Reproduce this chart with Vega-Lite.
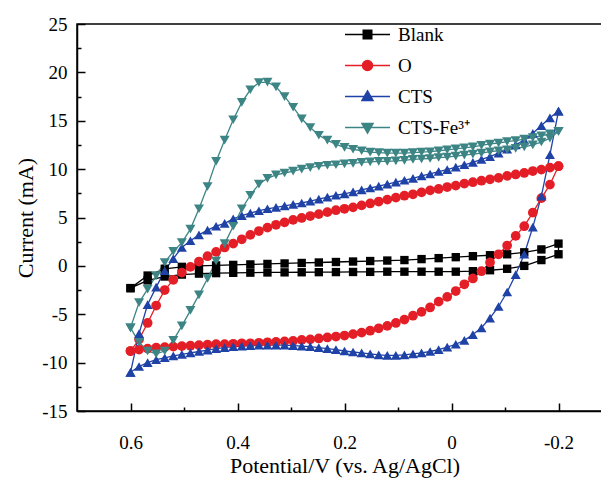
{
"$schema": "https://vega.github.io/schema/vega-lite/v6.json",
"width": 535, "height": 387,
"autosize": {"type": "none"},
"padding": {"left": 77, "top": 24, "right": 0, "bottom": 68},
"background": "white",
"config": {
  "view": {"stroke": "#000", "strokeWidth": 1.5},
  "font": "Liberation Serif",
  "axis": {"grid": false, "domainColor": "#000", "domainWidth": 1.5, "tickColor": "#000", "tickWidth": 1.5, "labelColor": "#000", "titleColor": "#000", "labelFont": "Liberation Serif", "titleFont": "Liberation Serif", "labelFontSize": 19, "titleFontSize": 22, "titleFontWeight": "normal"},
  "legend": {"orient": "none", "legendX": 281, "legendY": 1, "padding": 0, "labelFont": "Liberation Serif", "labelFontSize": 19, "labelColor": "#000", "symbolSize": 100, "rowPadding": 11, "labelOffset": 21, "symbolStrokeWidth": 1.5, "symbolOpacity": 1}
},
"data": {"values": [
{"s":"Blank","k":1,"v":0.6,"c":-2.3},{"s":"Blank","k":2,"v":0.568,"c":-1.0},{"s":"Blank","k":3,"v":0.536,"c":-0.3},{"s":"Blank","k":4,"v":0.504,"c":-0.1},{"s":"Blank","k":5,"v":0.472,"c":0.0},{"s":"Blank","k":6,"v":0.44,"c":0.05},{"s":"Blank","k":7,"v":0.408,"c":0.1},{"s":"Blank","k":8,"v":0.376,"c":0.15},{"s":"Blank","k":9,"v":0.344,"c":0.2},{"s":"Blank","k":10,"v":0.312,"c":0.25},{"s":"Blank","k":11,"v":0.28,"c":0.3},{"s":"Blank","k":12,"v":0.248,"c":0.35},{"s":"Blank","k":13,"v":0.216,"c":0.4},{"s":"Blank","k":14,"v":0.184,"c":0.45},{"s":"Blank","k":15,"v":0.152,"c":0.5},{"s":"Blank","k":16,"v":0.12,"c":0.55},{"s":"Blank","k":17,"v":0.088,"c":0.6},{"s":"Blank","k":18,"v":0.056,"c":0.7},{"s":"Blank","k":19,"v":0.024,"c":0.8},{"s":"Blank","k":20,"v":-0.008,"c":0.9},{"s":"Blank","k":21,"v":-0.04,"c":1.0},{"s":"Blank","k":22,"v":-0.072,"c":1.1},{"s":"Blank","k":23,"v":-0.104,"c":1.2},{"s":"Blank","k":24,"v":-0.136,"c":1.4},{"s":"Blank","k":25,"v":-0.168,"c":1.7},{"s":"Blank","k":26,"v":-0.2,"c":2.3},
{"s":"Blank","k":27,"v":-0.2,"c":1.2},{"s":"Blank","k":28,"v":-0.168,"c":0.6},{"s":"Blank","k":29,"v":-0.136,"c":0.0},{"s":"Blank","k":30,"v":-0.104,"c":-0.3},{"s":"Blank","k":31,"v":-0.072,"c":-0.45},{"s":"Blank","k":32,"v":-0.04,"c":-0.55},{"s":"Blank","k":33,"v":-0.008,"c":-0.6},{"s":"Blank","k":34,"v":0.024,"c":-0.6},{"s":"Blank","k":35,"v":0.056,"c":-0.6},{"s":"Blank","k":36,"v":0.088,"c":-0.6},{"s":"Blank","k":37,"v":0.12,"c":-0.6},{"s":"Blank","k":38,"v":0.152,"c":-0.62},{"s":"Blank","k":39,"v":0.184,"c":-0.63},{"s":"Blank","k":40,"v":0.216,"c":-0.64},{"s":"Blank","k":41,"v":0.248,"c":-0.65},{"s":"Blank","k":42,"v":0.28,"c":-0.66},{"s":"Blank","k":43,"v":0.312,"c":-0.67},{"s":"Blank","k":44,"v":0.344,"c":-0.68},{"s":"Blank","k":45,"v":0.376,"c":-0.7},{"s":"Blank","k":46,"v":0.408,"c":-0.72},{"s":"Blank","k":47,"v":0.44,"c":-0.75},{"s":"Blank","k":48,"v":0.472,"c":-0.8},{"s":"Blank","k":49,"v":0.504,"c":-0.9},{"s":"Blank","k":50,"v":0.536,"c":-1.1},{"s":"Blank","k":51,"v":0.568,"c":-1.5},{"s":"Blank","k":52,"v":0.6,"c":-2.3},

{"s":"O","k":1,"v":0.6,"c":-8.8},{"s":"O","k":2,"v":0.584,"c":-7.6},{"s":"O","k":3,"v":0.568,"c":-5.9},{"s":"O","k":4,"v":0.552,"c":-4.1},{"s":"O","k":5,"v":0.536,"c":-2.5},{"s":"O","k":6,"v":0.52,"c":-1.45},{"s":"O","k":7,"v":0.504,"c":-0.7},{"s":"O","k":8,"v":0.488,"c":-0.1},{"s":"O","k":9,"v":0.472,"c":0.45},{"s":"O","k":10,"v":0.456,"c":1.0},{"s":"O","k":11,"v":0.44,"c":1.45},{"s":"O","k":12,"v":0.424,"c":1.9},{"s":"O","k":13,"v":0.408,"c":2.3},{"s":"O","k":14,"v":0.392,"c":2.75},{"s":"O","k":15,"v":0.376,"c":3.2},{"s":"O","k":16,"v":0.36,"c":3.6},{"s":"O","k":17,"v":0.344,"c":3.95},{"s":"O","k":18,"v":0.328,"c":4.25},{"s":"O","k":19,"v":0.312,"c":4.5},{"s":"O","k":20,"v":0.296,"c":4.75},{"s":"O","k":21,"v":0.28,"c":4.95},{"s":"O","k":22,"v":0.264,"c":5.15},{"s":"O","k":23,"v":0.248,"c":5.35},{"s":"O","k":24,"v":0.232,"c":5.55},{"s":"O","k":25,"v":0.216,"c":5.75},{"s":"O","k":26,"v":0.2,"c":5.9},{"s":"O","k":27,"v":0.184,"c":6.05},{"s":"O","k":28,"v":0.168,"c":6.25},{"s":"O","k":29,"v":0.152,"c":6.45},{"s":"O","k":30,"v":0.136,"c":6.65},{"s":"O","k":31,"v":0.12,"c":6.85},{"s":"O","k":32,"v":0.104,"c":7.05},{"s":"O","k":33,"v":0.088,"c":7.25},{"s":"O","k":34,"v":0.072,"c":7.4},{"s":"O","k":35,"v":0.056,"c":7.6},{"s":"O","k":36,"v":0.04,"c":7.8},{"s":"O","k":37,"v":0.024,"c":7.95},{"s":"O","k":38,"v":0.008,"c":8.15},{"s":"O","k":39,"v":-0.008,"c":8.3},{"s":"O","k":40,"v":-0.024,"c":8.5},{"s":"O","k":41,"v":-0.04,"c":8.65},{"s":"O","k":42,"v":-0.056,"c":8.8},{"s":"O","k":43,"v":-0.072,"c":8.95},{"s":"O","k":44,"v":-0.088,"c":9.1},{"s":"O","k":45,"v":-0.104,"c":9.3},{"s":"O","k":46,"v":-0.12,"c":9.45},{"s":"O","k":47,"v":-0.136,"c":9.6},{"s":"O","k":48,"v":-0.152,"c":9.8},{"s":"O","k":49,"v":-0.168,"c":9.95},{"s":"O","k":50,"v":-0.184,"c":10.15},{"s":"O","k":51,"v":-0.2,"c":10.3},
{"s":"O","k":52,"v":-0.2,"c":10.3},{"s":"O","k":53,"v":-0.184,"c":8.4},{"s":"O","k":54,"v":-0.168,"c":7.0},{"s":"O","k":55,"v":-0.152,"c":5.5},{"s":"O","k":56,"v":-0.136,"c":4.1},{"s":"O","k":57,"v":-0.12,"c":3.1},{"s":"O","k":58,"v":-0.104,"c":2.1},{"s":"O","k":59,"v":-0.088,"c":1.2},{"s":"O","k":60,"v":-0.072,"c":0.35},{"s":"O","k":61,"v":-0.056,"c":-0.55},{"s":"O","k":62,"v":-0.04,"c":-1.3},{"s":"O","k":63,"v":-0.024,"c":-1.9},{"s":"O","k":64,"v":-0.008,"c":-2.6},{"s":"O","k":65,"v":0.008,"c":-3.2},{"s":"O","k":66,"v":0.024,"c":-3.7},{"s":"O","k":67,"v":0.04,"c":-4.3},{"s":"O","k":68,"v":0.056,"c":-4.75},{"s":"O","k":69,"v":0.072,"c":-5.15},{"s":"O","k":70,"v":0.088,"c":-5.55},{"s":"O","k":71,"v":0.104,"c":-5.9},{"s":"O","k":72,"v":0.12,"c":-6.2},{"s":"O","k":73,"v":0.136,"c":-6.45},{"s":"O","k":74,"v":0.152,"c":-6.7},{"s":"O","k":75,"v":0.168,"c":-6.9},{"s":"O","k":76,"v":0.184,"c":-7.05},{"s":"O","k":77,"v":0.2,"c":-7.2},{"s":"O","k":78,"v":0.216,"c":-7.3},{"s":"O","k":79,"v":0.232,"c":-7.4},{"s":"O","k":80,"v":0.248,"c":-7.5},{"s":"O","k":81,"v":0.264,"c":-7.6},{"s":"O","k":82,"v":0.28,"c":-7.65},{"s":"O","k":83,"v":0.296,"c":-7.75},{"s":"O","k":84,"v":0.312,"c":-7.8},{"s":"O","k":85,"v":0.328,"c":-7.85},{"s":"O","k":86,"v":0.344,"c":-7.9},{"s":"O","k":87,"v":0.36,"c":-7.95},{"s":"O","k":88,"v":0.376,"c":-8.0},{"s":"O","k":89,"v":0.392,"c":-8.0},{"s":"O","k":90,"v":0.408,"c":-8.05},{"s":"O","k":91,"v":0.424,"c":-8.1},{"s":"O","k":92,"v":0.44,"c":-8.1},{"s":"O","k":93,"v":0.456,"c":-8.15},{"s":"O","k":94,"v":0.472,"c":-8.2},{"s":"O","k":95,"v":0.488,"c":-8.25},{"s":"O","k":96,"v":0.504,"c":-8.3},{"s":"O","k":97,"v":0.52,"c":-8.35},{"s":"O","k":98,"v":0.536,"c":-8.4},{"s":"O","k":99,"v":0.552,"c":-8.45},{"s":"O","k":100,"v":0.568,"c":-8.55},{"s":"O","k":101,"v":0.584,"c":-8.65},{"s":"O","k":102,"v":0.6,"c":-8.8},

{"s":"CTS","k":1,"v":0.6,"c":-11.0},{"s":"CTS","k":2,"v":0.584,"c":-7.0},{"s":"CTS","k":3,"v":0.568,"c":-4.0},{"s":"CTS","k":4,"v":0.552,"c":-2.2},{"s":"CTS","k":5,"v":0.536,"c":-0.5},{"s":"CTS","k":6,"v":0.52,"c":0.75},{"s":"CTS","k":7,"v":0.504,"c":1.9},{"s":"CTS","k":8,"v":0.488,"c":2.6},{"s":"CTS","k":9,"v":0.472,"c":3.2},{"s":"CTS","k":10,"v":0.456,"c":3.7},{"s":"CTS","k":11,"v":0.44,"c":4.1},{"s":"CTS","k":12,"v":0.424,"c":4.4},{"s":"CTS","k":13,"v":0.408,"c":4.85},{"s":"CTS","k":14,"v":0.392,"c":5.2},{"s":"CTS","k":15,"v":0.376,"c":5.45},{"s":"CTS","k":16,"v":0.36,"c":5.7},{"s":"CTS","k":17,"v":0.344,"c":5.9},{"s":"CTS","k":18,"v":0.328,"c":6.05},{"s":"CTS","k":19,"v":0.312,"c":6.2},{"s":"CTS","k":20,"v":0.296,"c":6.35},{"s":"CTS","k":21,"v":0.28,"c":6.5},{"s":"CTS","k":22,"v":0.264,"c":6.7},{"s":"CTS","k":23,"v":0.248,"c":6.9},{"s":"CTS","k":24,"v":0.232,"c":7.1},{"s":"CTS","k":25,"v":0.216,"c":7.3},{"s":"CTS","k":26,"v":0.2,"c":7.45},{"s":"CTS","k":27,"v":0.184,"c":7.65},{"s":"CTS","k":28,"v":0.168,"c":7.85},{"s":"CTS","k":29,"v":0.152,"c":8.05},{"s":"CTS","k":30,"v":0.136,"c":8.25},{"s":"CTS","k":31,"v":0.12,"c":8.45},{"s":"CTS","k":32,"v":0.104,"c":8.65},{"s":"CTS","k":33,"v":0.088,"c":8.85},{"s":"CTS","k":34,"v":0.072,"c":9.05},{"s":"CTS","k":35,"v":0.056,"c":9.3},{"s":"CTS","k":36,"v":0.04,"c":9.5},{"s":"CTS","k":37,"v":0.024,"c":9.75},{"s":"CTS","k":38,"v":0.008,"c":9.95},{"s":"CTS","k":39,"v":-0.008,"c":10.2},{"s":"CTS","k":40,"v":-0.024,"c":10.45},{"s":"CTS","k":41,"v":-0.04,"c":10.7},{"s":"CTS","k":42,"v":-0.056,"c":11.0},{"s":"CTS","k":43,"v":-0.072,"c":11.3},{"s":"CTS","k":44,"v":-0.088,"c":11.65},{"s":"CTS","k":45,"v":-0.104,"c":12.05},{"s":"CTS","k":46,"v":-0.12,"c":12.5},{"s":"CTS","k":47,"v":-0.136,"c":13.0},{"s":"CTS","k":48,"v":-0.152,"c":13.7},{"s":"CTS","k":49,"v":-0.168,"c":14.5},{"s":"CTS","k":50,"v":-0.184,"c":15.3},{"s":"CTS","k":51,"v":-0.2,"c":16.0},
{"s":"CTS","k":52,"v":-0.2,"c":16.0},{"s":"CTS","k":53,"v":-0.184,"c":11.5},{"s":"CTS","k":54,"v":-0.168,"c":7.2},{"s":"CTS","k":55,"v":-0.152,"c":4.0},{"s":"CTS","k":56,"v":-0.136,"c":1.2},{"s":"CTS","k":57,"v":-0.12,"c":-0.9},{"s":"CTS","k":58,"v":-0.104,"c":-2.7},{"s":"CTS","k":59,"v":-0.088,"c":-4.2},{"s":"CTS","k":60,"v":-0.072,"c":-5.4},{"s":"CTS","k":61,"v":-0.056,"c":-6.4},{"s":"CTS","k":62,"v":-0.04,"c":-7.1},{"s":"CTS","k":63,"v":-0.024,"c":-7.7},{"s":"CTS","k":64,"v":-0.008,"c":-8.1},{"s":"CTS","k":65,"v":0.008,"c":-8.4},{"s":"CTS","k":66,"v":0.024,"c":-8.65},{"s":"CTS","k":67,"v":0.04,"c":-8.85},{"s":"CTS","k":68,"v":0.056,"c":-9.0},{"s":"CTS","k":69,"v":0.072,"c":-9.1},{"s":"CTS","k":70,"v":0.088,"c":-9.2},{"s":"CTS","k":71,"v":0.104,"c":-9.25},{"s":"CTS","k":72,"v":0.12,"c":-9.25},{"s":"CTS","k":73,"v":0.136,"c":-9.2},{"s":"CTS","k":74,"v":0.152,"c":-9.1},{"s":"CTS","k":75,"v":0.168,"c":-9.0},{"s":"CTS","k":76,"v":0.184,"c":-8.9},{"s":"CTS","k":77,"v":0.2,"c":-8.8},{"s":"CTS","k":78,"v":0.216,"c":-8.65},{"s":"CTS","k":79,"v":0.232,"c":-8.55},{"s":"CTS","k":80,"v":0.248,"c":-8.45},{"s":"CTS","k":81,"v":0.264,"c":-8.35},{"s":"CTS","k":82,"v":0.28,"c":-8.3},{"s":"CTS","k":83,"v":0.296,"c":-8.25},{"s":"CTS","k":84,"v":0.312,"c":-8.2},{"s":"CTS","k":85,"v":0.328,"c":-8.2},{"s":"CTS","k":86,"v":0.344,"c":-8.2},{"s":"CTS","k":87,"v":0.36,"c":-8.2},{"s":"CTS","k":88,"v":0.376,"c":-8.25},{"s":"CTS","k":89,"v":0.392,"c":-8.3},{"s":"CTS","k":90,"v":0.408,"c":-8.35},{"s":"CTS","k":91,"v":0.424,"c":-8.45},{"s":"CTS","k":92,"v":0.44,"c":-8.55},{"s":"CTS","k":93,"v":0.456,"c":-8.7},{"s":"CTS","k":94,"v":0.472,"c":-8.85},{"s":"CTS","k":95,"v":0.488,"c":-9.0},{"s":"CTS","k":96,"v":0.504,"c":-9.15},{"s":"CTS","k":97,"v":0.52,"c":-9.3},{"s":"CTS","k":98,"v":0.536,"c":-9.5},{"s":"CTS","k":99,"v":0.552,"c":-9.7},{"s":"CTS","k":100,"v":0.568,"c":-10.0},{"s":"CTS","k":101,"v":0.584,"c":-10.4},{"s":"CTS","k":102,"v":0.6,"c":-11.0},

{"s":"CTS-Fe³⁺","k":1,"v":0.6,"c":-6.4},{"s":"CTS-Fe³⁺","k":2,"v":0.584,"c":-3.8},{"s":"CTS-Fe³⁺","k":3,"v":0.568,"c":-2.4},{"s":"CTS-Fe³⁺","k":4,"v":0.552,"c":-1.0},{"s":"CTS-Fe³⁺","k":5,"v":0.536,"c":0.35},{"s":"CTS-Fe³⁺","k":6,"v":0.52,"c":1.5},{"s":"CTS-Fe³⁺","k":7,"v":0.504,"c":2.4},{"s":"CTS-Fe³⁺","k":8,"v":0.488,"c":3.8},{"s":"CTS-Fe³⁺","k":9,"v":0.472,"c":5.9},{"s":"CTS-Fe³⁺","k":10,"v":0.456,"c":8.2},{"s":"CTS-Fe³⁺","k":11,"v":0.44,"c":10.8},{"s":"CTS-Fe³⁺","k":12,"v":0.424,"c":13.0},{"s":"CTS-Fe³⁺","k":13,"v":0.408,"c":15.1},{"s":"CTS-Fe³⁺","k":14,"v":0.392,"c":16.9},{"s":"CTS-Fe³⁺","k":15,"v":0.376,"c":18.2},{"s":"CTS-Fe³⁺","k":16,"v":0.36,"c":18.95},{"s":"CTS-Fe³⁺","k":17,"v":0.344,"c":19.0},{"s":"CTS-Fe³⁺","k":18,"v":0.328,"c":18.5},{"s":"CTS-Fe³⁺","k":19,"v":0.312,"c":17.5},{"s":"CTS-Fe³⁺","k":20,"v":0.296,"c":16.4},{"s":"CTS-Fe³⁺","k":21,"v":0.28,"c":15.2},{"s":"CTS-Fe³⁺","k":22,"v":0.264,"c":14.3},{"s":"CTS-Fe³⁺","k":23,"v":0.248,"c":13.5},{"s":"CTS-Fe³⁺","k":24,"v":0.232,"c":13.0},{"s":"CTS-Fe³⁺","k":25,"v":0.216,"c":12.55},{"s":"CTS-Fe³⁺","k":26,"v":0.2,"c":12.25},{"s":"CTS-Fe³⁺","k":27,"v":0.184,"c":12.05},{"s":"CTS-Fe³⁺","k":28,"v":0.168,"c":11.9},{"s":"CTS-Fe³⁺","k":29,"v":0.152,"c":11.75},{"s":"CTS-Fe³⁺","k":30,"v":0.136,"c":11.7},{"s":"CTS-Fe³⁺","k":31,"v":0.12,"c":11.65},{"s":"CTS-Fe³⁺","k":32,"v":0.104,"c":11.65},{"s":"CTS-Fe³⁺","k":33,"v":0.088,"c":11.65},{"s":"CTS-Fe³⁺","k":34,"v":0.072,"c":11.7},{"s":"CTS-Fe³⁺","k":35,"v":0.056,"c":11.75},{"s":"CTS-Fe³⁺","k":36,"v":0.04,"c":11.8},{"s":"CTS-Fe³⁺","k":37,"v":0.024,"c":11.9},{"s":"CTS-Fe³⁺","k":38,"v":0.008,"c":12.0},{"s":"CTS-Fe³⁺","k":39,"v":-0.008,"c":12.1},{"s":"CTS-Fe³⁺","k":40,"v":-0.024,"c":12.2},{"s":"CTS-Fe³⁺","k":41,"v":-0.04,"c":12.3},{"s":"CTS-Fe³⁺","k":42,"v":-0.056,"c":12.45},{"s":"CTS-Fe³⁺","k":43,"v":-0.072,"c":12.6},{"s":"CTS-Fe³⁺","k":44,"v":-0.088,"c":12.7},{"s":"CTS-Fe³⁺","k":45,"v":-0.104,"c":12.85},{"s":"CTS-Fe³⁺","k":46,"v":-0.12,"c":12.95},{"s":"CTS-Fe³⁺","k":47,"v":-0.136,"c":13.1},{"s":"CTS-Fe³⁺","k":48,"v":-0.152,"c":13.25},{"s":"CTS-Fe³⁺","k":49,"v":-0.168,"c":13.45},{"s":"CTS-Fe³⁺","k":50,"v":-0.184,"c":13.65},{"s":"CTS-Fe³⁺","k":51,"v":-0.2,"c":13.9},
{"s":"CTS-Fe³⁺","k":52,"v":-0.2,"c":13.9},{"s":"CTS-Fe³⁺","k":53,"v":-0.184,"c":13.2},{"s":"CTS-Fe³⁺","k":54,"v":-0.168,"c":12.8},{"s":"CTS-Fe³⁺","k":55,"v":-0.152,"c":12.5},{"s":"CTS-Fe³⁺","k":56,"v":-0.136,"c":12.3},{"s":"CTS-Fe³⁺","k":57,"v":-0.12,"c":12.15},{"s":"CTS-Fe³⁺","k":58,"v":-0.104,"c":12.0},{"s":"CTS-Fe³⁺","k":59,"v":-0.088,"c":11.9},{"s":"CTS-Fe³⁺","k":60,"v":-0.072,"c":11.8},{"s":"CTS-Fe³⁺","k":61,"v":-0.056,"c":11.65},{"s":"CTS-Fe³⁺","k":62,"v":-0.04,"c":11.55},{"s":"CTS-Fe³⁺","k":63,"v":-0.024,"c":11.45},{"s":"CTS-Fe³⁺","k":64,"v":-0.008,"c":11.35},{"s":"CTS-Fe³⁺","k":65,"v":0.008,"c":11.25},{"s":"CTS-Fe³⁺","k":66,"v":0.024,"c":11.2},{"s":"CTS-Fe³⁺","k":67,"v":0.04,"c":11.1},{"s":"CTS-Fe³⁺","k":68,"v":0.056,"c":11.05},{"s":"CTS-Fe³⁺","k":69,"v":0.072,"c":11.0},{"s":"CTS-Fe³⁺","k":70,"v":0.088,"c":10.9},{"s":"CTS-Fe³⁺","k":71,"v":0.104,"c":10.85},{"s":"CTS-Fe³⁺","k":72,"v":0.12,"c":10.8},{"s":"CTS-Fe³⁺","k":73,"v":0.136,"c":10.8},{"s":"CTS-Fe³⁺","k":74,"v":0.152,"c":10.75},{"s":"CTS-Fe³⁺","k":75,"v":0.168,"c":10.7},{"s":"CTS-Fe³⁺","k":76,"v":0.184,"c":10.6},{"s":"CTS-Fe³⁺","k":77,"v":0.2,"c":10.55},{"s":"CTS-Fe³⁺","k":78,"v":0.216,"c":10.45},{"s":"CTS-Fe³⁺","k":79,"v":0.232,"c":10.4},{"s":"CTS-Fe³⁺","k":80,"v":0.248,"c":10.3},{"s":"CTS-Fe³⁺","k":81,"v":0.264,"c":10.15},{"s":"CTS-Fe³⁺","k":82,"v":0.28,"c":10.0},{"s":"CTS-Fe³⁺","k":83,"v":0.296,"c":9.8},{"s":"CTS-Fe³⁺","k":84,"v":0.312,"c":9.6},{"s":"CTS-Fe³⁺","k":85,"v":0.328,"c":9.4},{"s":"CTS-Fe³⁺","k":86,"v":0.344,"c":9.05},{"s":"CTS-Fe³⁺","k":87,"v":0.36,"c":8.45},{"s":"CTS-Fe³⁺","k":88,"v":0.376,"c":7.3},{"s":"CTS-Fe³⁺","k":89,"v":0.392,"c":5.9},{"s":"CTS-Fe³⁺","k":90,"v":0.408,"c":4.1},{"s":"CTS-Fe³⁺","k":91,"v":0.424,"c":2.3},{"s":"CTS-Fe³⁺","k":92,"v":0.44,"c":0.5},{"s":"CTS-Fe³⁺","k":93,"v":0.456,"c":-1.3},{"s":"CTS-Fe³⁺","k":94,"v":0.472,"c":-3.0},{"s":"CTS-Fe³⁺","k":95,"v":0.488,"c":-4.6},{"s":"CTS-Fe³⁺","k":96,"v":0.504,"c":-6.2},{"s":"CTS-Fe³⁺","k":97,"v":0.52,"c":-7.7},{"s":"CTS-Fe³⁺","k":98,"v":0.536,"c":-8.8},{"s":"CTS-Fe³⁺","k":99,"v":0.552,"c":-9.1},{"s":"CTS-Fe³⁺","k":100,"v":0.568,"c":-8.8},{"s":"CTS-Fe³⁺","k":101,"v":0.584,"c":-7.9},{"s":"CTS-Fe³⁺","k":102,"v":0.6,"c":-6.4}
]},
"layer": [
  {
    "mark": {"type": "line", "strokeWidth": 1.3},
    "encoding": {
      "x": {"field": "v", "type": "quantitative", "scale": {"domain": [-0.3, 0.7], "reverse": true, "nice": false, "zero": false},
            "axis": {"orient": "bottom", "values": [0.6, 0.4, 0.2, 0, -0.2], "labelExpr": "'' + datum.value", "tickSize": -8, "labelPadding": 30, "title": "Potential/V (vs. Ag/AgCl)", "titlePadding": 3}},
      "y": {"field": "c", "type": "quantitative", "scale": {"domain": [-15, 25], "nice": false, "zero": false},
            "axis": {"orient": "left", "values": [-15, -10, -5, 0, 5, 10, 15, 20, 25], "labelExpr": "'' + datum.value", "tickSize": -8, "labelPadding": 18, "title": "Current (mA)", "titlePadding": 4}},
      "color": {"field": "s", "type": "nominal", "scale": {"domain": ["Blank", "O", "CTS", "CTS-Fe³⁺"], "range": ["#000000", "#e41e26", "#1f42a6", "#3d8585"]},
        "legend": {"title": null,
          "symbolType": {"expr": "datum.value === 'Blank' ? 'M-4.5,0H4.5M-0.85,-0.85H0.85V0.85H-0.85Z' : datum.value === 'O' ? 'M-4.5,0H4.5M1,0A1 1 0 1 1 -1,0A1 1 0 1 1 1,0Z' : datum.value === 'CTS' ? 'M-4.5,0H4.5M0,-1.1L1.1,0.8H-1.1Z' : 'M-4.5,0H4.5M0,1.1L1.1,-0.8H-1.1Z'"},
          "symbolFillColor": {"expr": "scale('color', datum.value)"},
          "symbolStrokeColor": {"expr": "scale('color', datum.value)"}}},
      "order": {"field": "k", "type": "quantitative"}
    }
  },
  {
    "transform": [{"filter": "datum.s === 'Blank'"}],
    "mark": {"type": "point", "filled": true, "opacity": 1, "shape": "square", "size": 70},
    "encoding": {
      "x": {"field": "v", "type": "quantitative", "scale": {"domain": [-0.3, 0.7], "reverse": true, "nice": false, "zero": false},
            "axis": {"orient": "bottom", "values": [0.5, 0.3, 0.1, -0.1], "labels": false, "domain": false, "tickSize": -4, "title": null}},
      "y": {"field": "c", "type": "quantitative", "scale": {"domain": [-15, 25], "nice": false, "zero": false},
            "axis": {"orient": "left", "values": [-12.5, -7.5, -2.5, 2.5, 7.5, 12.5, 17.5, 22.5], "labels": false, "domain": false, "tickSize": -4, "title": null}},
      "color": {"field": "s", "type": "nominal", "scale": {"domain": ["Blank", "O", "CTS", "CTS-Fe³⁺"], "range": ["#000000", "#e41e26", "#1f42a6", "#3d8585"]},
        "legend": {"title": null,
          "symbolType": {"expr": "datum.value === 'Blank' ? 'M-4.5,0H4.5M-0.85,-0.85H0.85V0.85H-0.85Z' : datum.value === 'O' ? 'M-4.5,0H4.5M1,0A1 1 0 1 1 -1,0A1 1 0 1 1 1,0Z' : datum.value === 'CTS' ? 'M-4.5,0H4.5M0,-1.1L1.1,0.8H-1.1Z' : 'M-4.5,0H4.5M0,1.1L1.1,-0.8H-1.1Z'"},
          "symbolFillColor": {"expr": "scale('color', datum.value)"},
          "symbolStrokeColor": {"expr": "scale('color', datum.value)"}}}
    }
  },
  {
    "transform": [{"filter": "datum.s === 'O'"}],
    "mark": {"type": "point", "filled": true, "opacity": 1, "shape": "circle", "size": 95},
    "encoding": {
      "x": {"field": "v", "type": "quantitative", "axis": null},
      "y": {"field": "c", "type": "quantitative", "axis": null},
      "color": {"field": "s", "type": "nominal",
        "legend": {"title": null,
          "symbolType": {"expr": "datum.value === 'Blank' ? 'M-4.5,0H4.5M-0.85,-0.85H0.85V0.85H-0.85Z' : datum.value === 'O' ? 'M-4.5,0H4.5M1,0A1 1 0 1 1 -1,0A1 1 0 1 1 1,0Z' : datum.value === 'CTS' ? 'M-4.5,0H4.5M0,-1.1L1.1,0.8H-1.1Z' : 'M-4.5,0H4.5M0,1.1L1.1,-0.8H-1.1Z'"},
          "symbolFillColor": {"expr": "scale('color', datum.value)"},
          "symbolStrokeColor": {"expr": "scale('color', datum.value)"}}}
    }
  },
  {
    "transform": [{"filter": "datum.s === 'CTS'"}],
    "mark": {"type": "point", "filled": true, "opacity": 1, "shape": "triangle-up", "size": 100},
    "encoding": {
      "x": {"field": "v", "type": "quantitative", "axis": null},
      "y": {"field": "c", "type": "quantitative", "axis": null},
      "color": {"field": "s", "type": "nominal",
        "legend": {"title": null,
          "symbolType": {"expr": "datum.value === 'Blank' ? 'M-4.5,0H4.5M-0.85,-0.85H0.85V0.85H-0.85Z' : datum.value === 'O' ? 'M-4.5,0H4.5M1,0A1 1 0 1 1 -1,0A1 1 0 1 1 1,0Z' : datum.value === 'CTS' ? 'M-4.5,0H4.5M0,-1.1L1.1,0.8H-1.1Z' : 'M-4.5,0H4.5M0,1.1L1.1,-0.8H-1.1Z'"},
          "symbolFillColor": {"expr": "scale('color', datum.value)"},
          "symbolStrokeColor": {"expr": "scale('color', datum.value)"}}}
    }
  },
  {
    "transform": [{"filter": "datum.s === 'CTS-Fe³⁺'"}],
    "mark": {"type": "point", "filled": true, "opacity": 1, "shape": "triangle-down", "size": 100},
    "encoding": {
      "x": {"field": "v", "type": "quantitative", "axis": null},
      "y": {"field": "c", "type": "quantitative", "axis": null},
      "color": {"field": "s", "type": "nominal",
        "legend": {"title": null,
          "symbolType": {"expr": "datum.value === 'Blank' ? 'M-4.5,0H4.5M-0.85,-0.85H0.85V0.85H-0.85Z' : datum.value === 'O' ? 'M-4.5,0H4.5M1,0A1 1 0 1 1 -1,0A1 1 0 1 1 1,0Z' : datum.value === 'CTS' ? 'M-4.5,0H4.5M0,-1.1L1.1,0.8H-1.1Z' : 'M-4.5,0H4.5M0,1.1L1.1,-0.8H-1.1Z'"},
          "symbolFillColor": {"expr": "scale('color', datum.value)"},
          "symbolStrokeColor": {"expr": "scale('color', datum.value)"}}}
    }
  }
],
"resolve": {"axis": {"x": "independent", "y": "independent"}}
}
